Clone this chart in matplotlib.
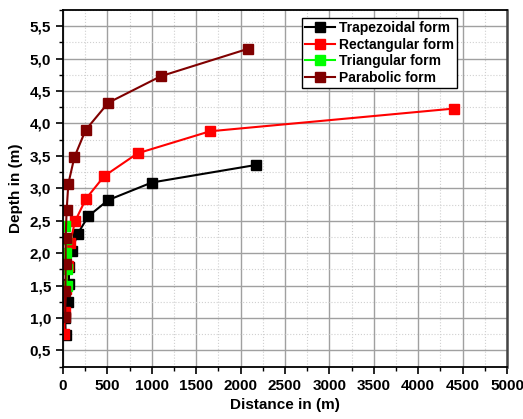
import numpy as np
import matplotlib
matplotlib.use('Agg')
import matplotlib.pyplot as plt
from matplotlib.ticker import MultipleLocator, FuncFormatter

plt.rcParams['font.family'] = ['Liberation Sans', 'DejaVu Sans']
plt.rcParams['font.weight'] = 'bold'

# distance (m) vs depth (m) for each channel form
trap_x = [30, 25, 60, 65, 70, 98, 165, 285, 510, 1000, 2170]
trap_y = [0.74, 1.0, 1.25, 1.52, 1.78, 2.03, 2.30, 2.57, 2.82, 3.09, 3.36]

rect_x = [15, 20, 30, 55, 79, 135, 259, 465, 840, 1655, 4400]
rect_y = [0.75, 1.10, 1.45, 1.80, 2.15, 2.49, 2.84, 3.19, 3.54, 3.88, 4.23]

tri_x = [40, 42, 38, 32, 25]
tri_y = [1.50, 1.75, 2.00, 2.22, 2.42]

para_x = [25, 27, 30, 30, 41, 60, 128, 255, 510, 1103, 2080]
para_y = [1.01, 1.42, 1.84, 2.24, 2.66, 3.07, 3.48, 3.90, 4.32, 4.73, 5.15]

series = [
	(trap_x, trap_y, 'black', 'Trapezoidal form'),
	(rect_x, rect_y, '#ff0000', 'Rectangular form'),
	(tri_x, tri_y, '#00ff00', 'Triangular form'),
	(para_x, para_y, '#800000', 'Parabolic form'),
]

fig = plt.figure(figsize=(5.23, 4.19), dpi=100)
ax = fig.add_axes([63/523, 1-366.7/419, (507-63)/523, (366.7-10)/419])

for xs, ys, col, lab in series:
	ax.plot(xs, ys, color=col, lw=1.5, marker='s', markersize=6.5, label=lab)

ax.set_xlim(0, 5000)
ax.set_ylim(0.25, 5.75)
ax.xaxis.set_major_locator(MultipleLocator(500))
ax.xaxis.set_minor_locator(MultipleLocator(250))
ax.yaxis.set_major_locator(MultipleLocator(0.5))
ax.yaxis.set_minor_locator(MultipleLocator(0.25))
ax.yaxis.set_major_formatter(FuncFormatter(lambda v, p: ('%.1f' % v).replace('.', ',')))

ax.grid(True, which='major', color='#a0a0a0', lw=1.0)
ax.grid(True, which='minor', color='#d0d0d0', lw=0.8, ls=':')
ax.set_axisbelow(True)

ax.tick_params(which='major', direction='out', length=5, width=1.2, labelsize=11)
ax.tick_params(which='minor', direction='out', length=3, width=1.0)
for lbl in ax.get_xticklabels() + ax.get_yticklabels():
	lbl.set_fontweight('bold')

for s in ['left', 'bottom', 'top']:
	ax.spines[s].set_linewidth(1.3)
ax.spines['right'].set_linewidth(1.8)
ax.spines['right'].set_color('#444444')

ax.set_xlabel('Distance in (m)', fontsize=11, fontweight='bold', labelpad=4)
ax.set_ylabel('Depth in (m)', fontsize=11, fontweight='bold', labelpad=5)

leg = ax.legend(loc='upper right', bbox_to_anchor=(457/523, 1-18/419), bbox_transform=fig.transFigure,
	borderaxespad=0, fancybox=False, framealpha=1, edgecolor='black', handlelength=2.2,
	handletextpad=0.3, labelspacing=0.2, borderpad=0.2, prop={'weight': 'bold', 'size': 10})
leg.get_frame().set_linewidth(1.0)

fig.savefig('out.png', dpi=100)
